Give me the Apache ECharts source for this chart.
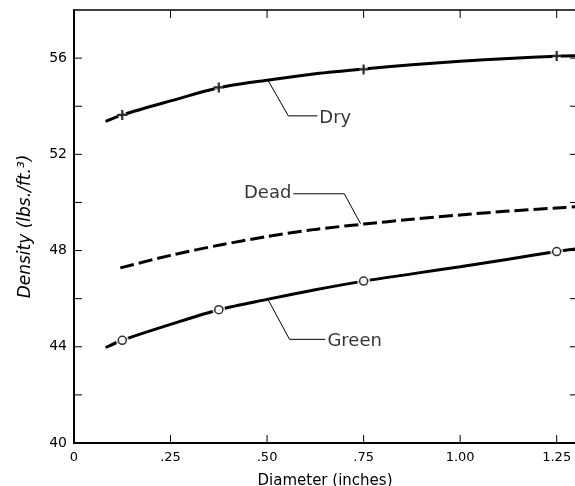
<!DOCTYPE html>
<html>
<head>
<meta charset="utf-8">
<script src="https://cdn.jsdelivr.net/npm/echarts@6/dist/echarts.min.js"></script>
<style>
html,body{margin:0;padding:0;background:#fff;}
#chart{width:575px;height:486px;}
</style>
</head>
<body>
<div id="chart"></div>
<script>
// ---- data ----
const xTicks = [0, 0.25, 0.5, 0.75, 1.0, 1.25];
const xTickLabels = ['0', '.25', '.50', '.75', '1.00', '1.25'];
const yTicks = [40, 44, 48, 52, 56];
const yTickLabels = ['40', '44', '48', '52', '56'];
const yMinorTicks = [40, 42, 44, 46, 48, 50, 52, 54, 56];

const dryX = [0.085, 0.125, 0.25, 0.375, 0.5, 0.625, 0.75, 0.875, 1.0, 1.125, 1.25, 1.3];
const dryY = [53.39, 53.64, 54.22, 54.77, 55.08, 55.35, 55.55, 55.72, 55.87, 55.98, 56.08, 56.1];
const dryMarkX = [0.125, 0.375, 0.75, 1.25];
const dryMarkY = [53.64, 54.78, 55.53, 56.09];

const deadX = [0.12, 0.25, 0.375, 0.5, 0.625, 0.75, 0.875, 1.0, 1.125, 1.25, 1.3];
const deadY = [47.28, 47.8, 48.22, 48.58, 48.88, 49.1, 49.3, 49.48, 49.64, 49.77, 49.82];

const greenX = [0.085, 0.125, 0.25, 0.375, 0.5, 0.625, 0.75, 0.875, 1.0, 1.125, 1.25, 1.3];
const greenY = [43.99, 44.27, 44.93, 45.54, 45.97, 46.37, 46.73, 47.03, 47.33, 47.64, 47.96, 48.07];
const greenMarkX = [0.125, 0.375, 0.75, 1.25];
const greenMarkY = [44.27, 45.54, 46.73, 47.96];

// annotation leaders (data coordinates)
const annoNames = ['Dry', 'Dead', 'Green'];
const annoPathX = [[0.503, 0.555, 0.63], [0.742, 0.700, 0.568], [0.503, 0.558, 0.651]];
const annoPathY = [[55.06, 53.6, 53.6], [49.12, 50.36, 50.36], [45.95, 44.31, 44.31]];
const annoSide = ['right', 'left', 'right'];

// ---- build ----
const X_MIN = 0, X_MAX = 1.3, Y_MIN = 40, Y_MAX = 58;
const zip = (xs, ys) => xs.map((x, i) => [x, ys[i]]);
const FONT = 'DejaVu Sans';

const chart = echarts.init(document.getElementById('chart'), null, {renderer: 'canvas'});

const leaderSeries = annoNames.map((n, k) => ({
  type: 'line', data: zip(annoPathX[k], annoPathY[k]), symbol: 'none', silent: true,
  lineStyle: {color: '#000', width: 1}, z: 3
}));

const labelSeries = {
  type: 'scatter', symbolSize: 0, silent: true, z: 5,
  data: annoNames.map((n, k) => ({
    name: n,
    value: [annoPathX[k][2], annoPathY[k][2]],
    label: {show: true, position: annoSide[k], distance: 2, offset: [0, k === 1 ? 0 : 2], formatter: n,
            color: '#000', fontFamily: FONT, fontSize: 18}
  }))
};

// inward-pointing axis ticks drawn through the axes' own scales
function tickSeries(data, dx, dy) {
  return {
    type: 'custom', silent: true, clip: false, z: 4, data: data,
    renderItem: (params, api) => {
      const p = api.coord([api.value(0), api.value(1)]);
      return {type: 'line', shape: {x1: p[0], y1: p[1], x2: p[0] + dx, y2: p[1] + dy},
              style: {stroke: '#000', lineWidth: 1}};
    }
  };
}

const option = {
  animation: false,
  backgroundColor: '#fff',
  grid: {left: 74, top: 10, right: -1, bottom: 43, outerBoundsMode: 'none', containLabel: false},
  xAxis: [{
    type: 'value', min: X_MIN, max: X_MAX, interval: 0.25, position: 'bottom',
    name: 'Diameter (inches)', nameLocation: 'middle', nameGap: 31,
    nameTextStyle: {color: '#000', fontFamily: FONT, fontSize: 15},
    axisLine: {show: true, onZero: false, lineStyle: {color: '#000', width: 2}},
    axisTick: {show: false},
    axisLabel: {color: '#000', fontFamily: FONT, fontSize: 13, margin: 8, showMaxLabel: false,
      formatter: v => { const i = xTicks.findIndex(t => Math.abs(t - v) < 1e-6); return i >= 0 ? xTickLabels[i] : ''; }},
    splitLine: {show: false}
  }, {
    type: 'value', min: X_MIN, max: X_MAX, interval: 0.25, position: 'top',
    axisLine: {show: true, onZero: false, lineStyle: {color: '#000', width: 1.5}},
    axisTick: {show: false},
    axisLabel: {show: false}, splitLine: {show: false}
  }],
  yAxis: [{
    type: 'value', min: Y_MIN, max: Y_MAX, interval: 2, position: 'left',
    name: 'Density (lbs./ft.³)', nameLocation: 'middle', nameGap: 40, nameRotate: 90,
    nameTextStyle: {color: '#000', fontFamily: FONT, fontSize: 17, fontStyle: 'italic'},
    axisLine: {show: true, onZero: false, lineStyle: {color: '#000', width: 2}},
    axisTick: {show: false},
    axisLabel: {color: '#000', fontFamily: FONT, fontSize: 14, margin: 7,
      formatter: v => { const i = yTicks.findIndex(t => Math.abs(t - v) < 1e-6); return i >= 0 ? yTickLabels[i] : ''; }},
    splitLine: {show: false}
  }, {
    type: 'value', min: Y_MIN, max: Y_MAX, interval: 2, position: 'right',
    axisLine: {show: false}, axisTick: {show: false},
    axisLabel: {show: false}, splitLine: {show: false}
  }],
  series: [
    {name: 'Dry', type: 'line', smooth: 0.3, symbol: 'none', data: zip(dryX, dryY),
     lineStyle: {color: '#000', width: 3, cap: 'round'}, z: 2},
    {name: 'Dead', type: 'line', smooth: 0.3, symbol: 'none', data: zip(deadX, deadY),
     lineStyle: {color: '#000', width: 3, type: [14, 5]}, z: 2},
    {name: 'Green', type: 'line', smooth: 0.3, symbol: 'none', data: zip(greenX, greenY),
     lineStyle: {color: '#000', width: 3, cap: 'round'}, z: 2},
    // white gaps behind markers
    {type: 'scatter', silent: true, symbol: 'circle', symbolSize: 9, z: 6,
     itemStyle: {color: '#fff'}, data: zip(dryMarkX, dryMarkY)},
    {type: 'scatter', silent: true, symbol: 'circle', symbolSize: 13, z: 6,
     itemStyle: {color: '#fff'}, data: zip(greenMarkX, greenMarkY)},
    // markers
    {name: 'Dry points', type: 'scatter', silent: true, z: 7,
     symbol: 'path://M3.1,0H4.9V3.1H8V4.9H4.9V8H3.1V4.9H0V3.1H3.1Z', symbolSize: 10,
     itemStyle: {color: '#000'}, data: zip(dryMarkX, dryMarkY)},
    {name: 'Green points', type: 'scatter', silent: true, z: 7,
     symbol: 'circle', symbolSize: 8,
     itemStyle: {color: '#fff', borderColor: '#000', borderWidth: 1.5}, data: zip(greenMarkX, greenMarkY)},
    ...leaderSeries,
    labelSeries,
    // axis ticks
    tickSeries(yMinorTicks.map(y => [X_MIN, y]), 8, 0),
    tickSeries(yMinorTicks.map(y => [X_MAX, y]), -6, 0),
    tickSeries(xTicks.map(x => [x, Y_MIN]), 0, -8),
    tickSeries(xTicks.map(x => [x, Y_MAX]), 0, 8)
  ]
};
chart.setOption(option);
</script>
</body>
</html>
